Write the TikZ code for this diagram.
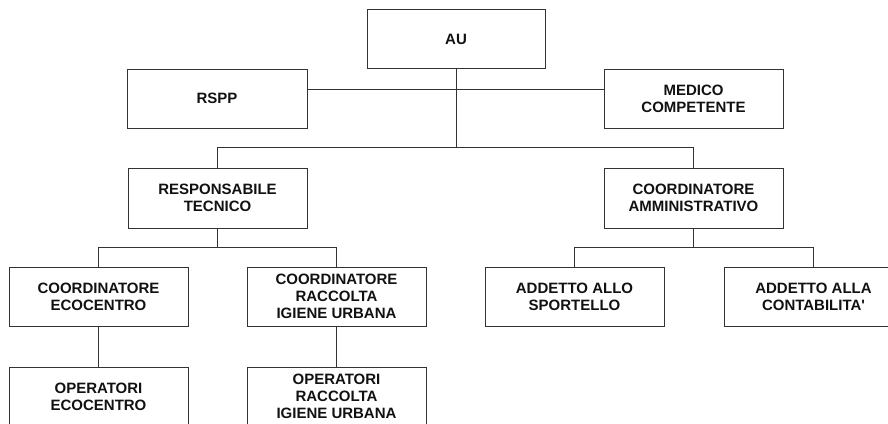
\documentclass[tikz,border=0pt]{standalone}
\usepackage{fontspec}
\setmainfont{Liberation Sans}
\definecolor{linegray}{HTML}{333333}
\definecolor{txt}{HTML}{111111}
\tikzset{
  box/.style={draw=linegray, line width=1pt, rectangle, minimum width=179pt, minimum height=59pt,
    align=center, inner sep=0pt, font=\fontsize{15}{17}\selectfont\bfseries, text=txt},
  conn/.style={draw=linegray, line width=1pt}
}
\begin{document}
\begin{tikzpicture}[x=1pt,y=-1pt]
\useasboundingbox (0,0) rectangle (888,423);
\clip (0,0) rectangle (888,423);
\node[box, minimum width=178pt] (AU) at (456,39) {AU};
\node[box, minimum width=180pt] (RSPP) at (217,98.5) {RSPP};
\node[box] (MED) at (693.5,98.5) {MEDICO\\COMPETENTE};
\node[box, minimum height=60pt] (RT) at (217.5,198) {RESPONSABILE\\TECNICO};
\node[box, minimum height=60pt] (CA) at (693.5,198) {COORDINATORE\\AMMINISTRATIVO};
\node[box] (CE) at (98.5,296.5) {COORDINATORE\\ECOCENTRO};
\node[box] (CR) at (336.5,296.5) {COORDINATORE\\RACCOLTA\\IGIENE URBANA};
\node[box] (AS) at (574.5,296.5) {ADDETTO ALLO\\SPORTELLO};
\node[box] (AC) at (813.5,296.5) {ADDETTO ALLA\\CONTABILITA\textquotesingle};
\node[box] (OE) at (98.5,396.5) {OPERATORI\\ECOCENTRO};
\node[box] (OR) at (336.5,396.5) {OPERATORI\\RACCOLTA\\IGIENE URBANA};
\coordinate (h0) at (456,89);
\coordinate (j1) at (456,147);
\coordinate (j2) at (217.5,247);
\coordinate (j3) at (693.5,247);
\draw[conn] (RSPP.east|-h0) -- (MED.west|-h0);
\draw[conn] (AU.south) -- (j1);
\draw[conn] (RT.north) -- (RT.north|-j1) -- (CA.north|-j1) -- (CA.north);
\draw[conn] (RT.south) -- (j2);
\draw[conn] (CE.north) -- (CE.north|-j2) -- (CR.north|-j2) -- (CR.north);
\draw[conn] (CA.south) -- (j3);
\draw[conn] (AS.north) -- (AS.north|-j3) -- (AC.north|-j3) -- (AC.north);
\draw[conn] (CE.south) -- (OE.north);
\draw[conn] (CR.south) -- (OR.north);
\end{tikzpicture}
\end{document}
